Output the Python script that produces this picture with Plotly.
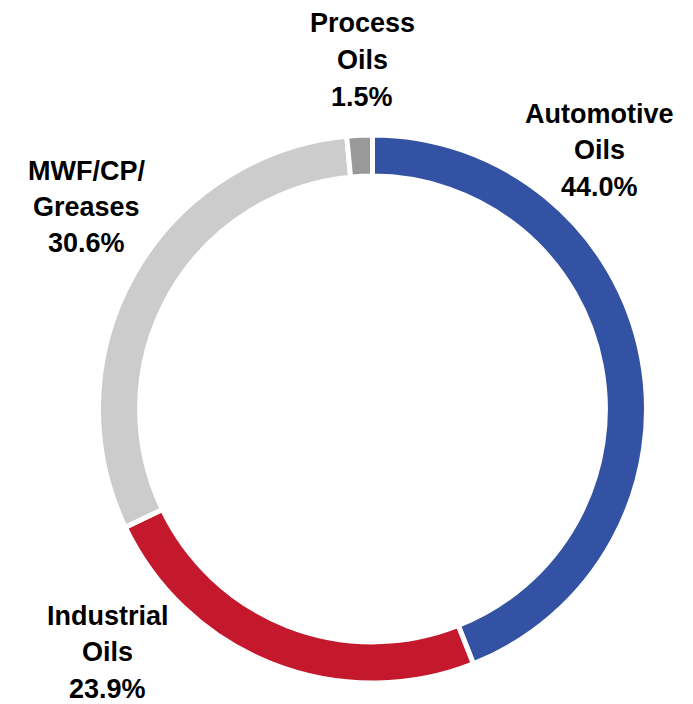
import plotly.graph_objects as go

categories = ["Automotive Oils", "Industrial Oils", "MWF/CP/Greases", "Process Oils"]
label_lines = [["Automotive", "Oils"], ["Industrial", "Oils"], ["MWF/CP/", "Greases"], ["Process", "Oils"]]
shares = [44.0, 23.9, 30.6, 1.5]
colors = ["#3452A4", "#C4182C", "#CCCCCC", "#999999"]

W, H = 693, 704
OFF = 8  # page body margin offset
cx, cy, R = 372.5 - OFF, 409 - OFF, 274

fig = go.Figure(go.Pie(
    labels=categories,
    values=shares,
    sort=False,
    direction="clockwise",
    rotation=0,
    hole=0.85,
    marker=dict(colors=colors, line=dict(color="white", width=5)),
    textinfo="none",
    hoverinfo="label+percent",
    domain=dict(x=[(cx - R) / W, (cx + R) / W], y=[(H - cy - R) / H, (H - cy + R) / H]),
))

# label anchor (center x, first baseline y) in pixels
label_pos = [(599, 123), (108, 625), (86, 180), (362, 33)]
spacing = 36.5

annotations = []
for lines, val, (px, py) in zip(label_lines, shares, label_pos):
    texts = lines + [f"{val:.1f}%"]
    for i, t in enumerate(texts):
        by = py + i * spacing - OFF
        annotations.append(dict(
            text=f"<b>{t}</b>", x=(px - OFF) / W, y=1 - (by - 9.5) / H,
            xref="paper", yref="paper", xanchor="center", yanchor="middle",
            showarrow=False, font=dict(family="Liberation Sans, Arial, sans-serif", size=27, color="black"),
        ))

fig.update_layout(
    width=W, height=H,
    margin=dict(l=0, r=0, t=0, b=0),
    paper_bgcolor="white", plot_bgcolor="white",
    showlegend=False,
    annotations=annotations,
)

fig.write_html("out.html")
